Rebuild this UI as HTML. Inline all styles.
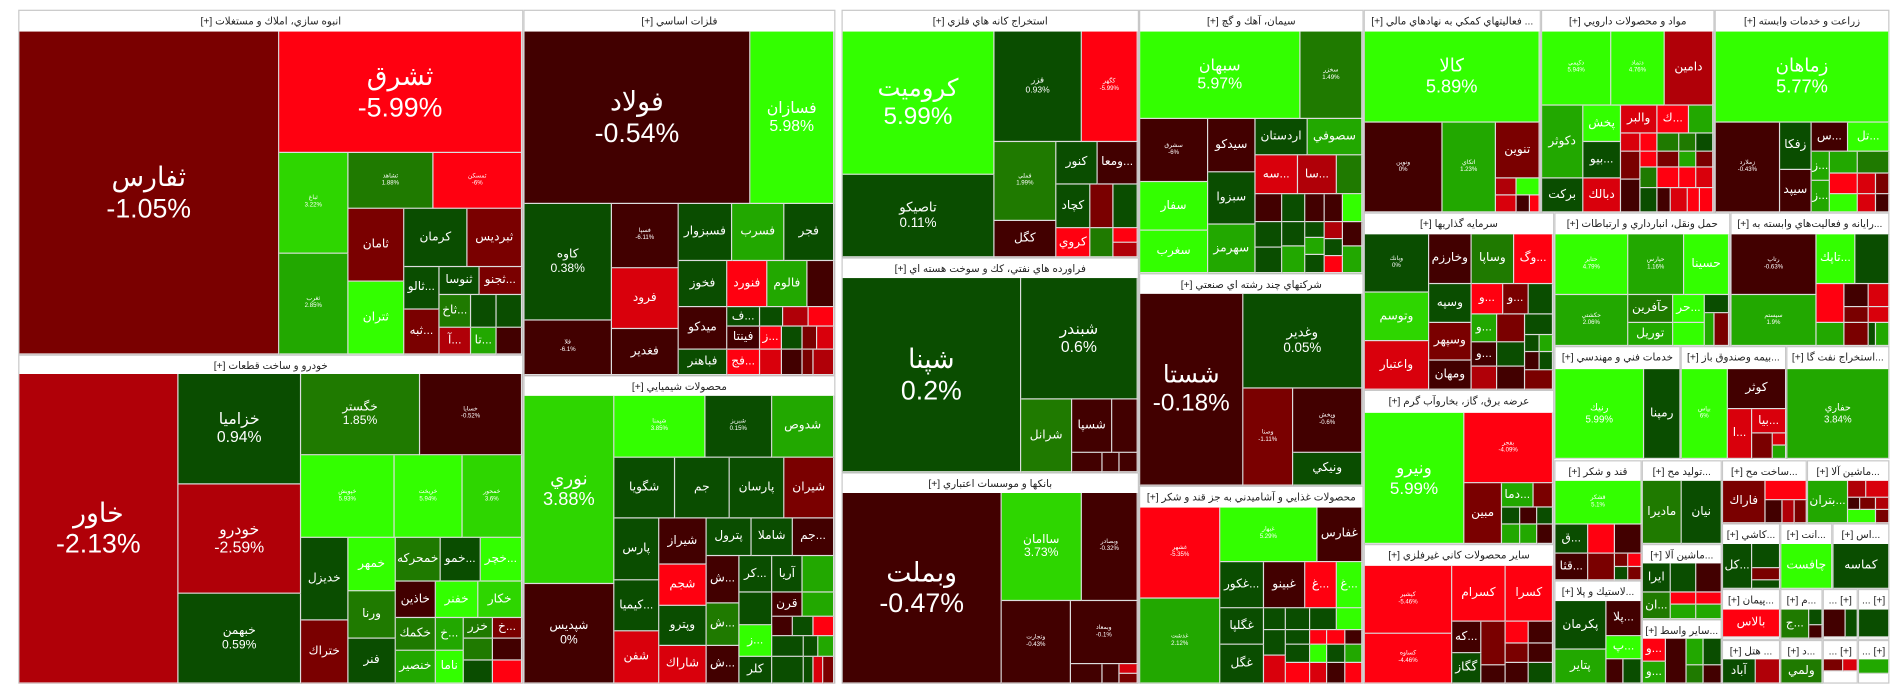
<!DOCTYPE html>
<html><head><meta charset="utf-8">
<style>
html,body{margin:0;padding:0;background:#fff;width:1904px;height:698px;overflow:hidden}
#m{position:absolute;left:0;top:0;width:1568px;height:575px;transform:scale(1.21429);transform-origin:0 0;font-family:"Liberation Sans","DejaVu Sans",sans-serif}
.s{position:absolute;box-sizing:border-box;border:1px solid #c8c8c8;background:#fff;font-size:8.5px;text-align:center;line-height:17px;color:#222;overflow:hidden;white-space:nowrap}
i{position:absolute;box-sizing:border-box;border-right:1px solid #ddd;border-bottom:1px solid #ddd;display:flex;align-items:center;justify-content:center;text-align:center;color:#fff;overflow:hidden;line-height:1.15;white-space:nowrap;font-style:normal;font-size:9px}
.a{background:#420000}.b{background:#7a0000}.c{background:#b00008}.d{background:#d9000c}.e{background:#ff0010}
.f{background:#0a4d00}.g{background:#1f7a00}.h{background:#22a800}.k{background:#2ed600}.j{background:#33ff00}
.L{font-size:22px}.M{font-size:13px}.S{font-size:10px}.X{font-size:5px}
</style></head><body><div id="m">
<div class="s" dir="rtl" style="left:15px;top:8px;width:416px;height:284px">انبوه سازي، املاك و مستغلات [+]</div>
<div class="s" dir="rtl" style="left:15px;top:292px;width:416px;height:271px">خودرو و ساخت قطعات [+]</div>
<div class="s" dir="rtl" style="left:431px;top:8px;width:257px;height:301px">فلزات اساسي [+]</div>
<div class="s" dir="rtl" style="left:431px;top:309px;width:257px;height:254px">محصولات شيميايي [+]</div>
<div class="s" dir="rtl" style="left:693px;top:8px;width:245px;height:204px">استخراج كانه هاي فلزي [+]</div>
<div class="s" dir="rtl" style="left:693px;top:212px;width:245px;height:177px">فراورده هاي نفتي، كك و سوخت هسته اي [+]</div>
<div class="s" dir="rtl" style="left:693px;top:389px;width:245px;height:174px">بانكها و موسسات اعتباري [+]</div>
<div class="s" dir="rtl" style="left:938px;top:8px;width:185px;height:217px">سيمان، آهك و گچ [+]</div>
<div class="s" dir="rtl" style="left:938px;top:225px;width:185px;height:175px">شركتهاي چند رشته اي صنعتي [+]</div>
<div class="s" dir="rtl" style="left:938px;top:400px;width:185px;height:163px">محصولات غذايي و آشاميدني به جز قند و شكر [+]</div>
<div class="s" dir="rtl" style="left:1123px;top:8px;width:146px;height:167px">... فعاليتهاي كمكي به نهادهاي مالي [+]</div>
<div class="s" dir="rtl" style="left:1123px;top:175px;width:157px;height:146px">سرمايه گذاريها [+]</div>
<div class="s" dir="rtl" style="left:1123px;top:321px;width:157px;height:127px">عرضه برق، گاز، بخاروآب گرم [+]</div>
<div class="s" dir="rtl" style="left:1123px;top:448px;width:157px;height:115px">ساير محصولات كاني غيرفلزي [+]</div>
<div class="s" dir="rtl" style="left:1269px;top:8px;width:143px;height:167px">مواد و محصولات دارويي [+]</div>
<div class="s" dir="rtl" style="left:1412px;top:8px;width:144px;height:167px">زراعت و خدمات وابسته [+]</div>
<div class="s" dir="rtl" style="left:1280px;top:175px;width:145px;height:110px">حمل ونقل، انبارداري و ارتباطات [+]</div>
<div class="s" dir="rtl" style="left:1425px;top:175px;width:131px;height:110px">...رايانه و فعاليت‌هاي وابسته به [+]</div>
<div class="s" dir="rtl" style="left:1280px;top:285px;width:104px;height:93px">خدمات فني و مهندسي [+]</div>
<div class="s" dir="rtl" style="left:1384px;top:285px;width:87px;height:93px">...بيمه وصندوق باز [+]</div>
<div class="s" dir="rtl" style="left:1471px;top:285px;width:85px;height:93px">...استخراج نفت گا [+]</div>
<div class="s" dir="rtl" style="left:1280px;top:379px;width:72px;height:99px">قند و شكر [+]</div>
<div class="s" dir="rtl" style="left:1280px;top:478px;width:72px;height:85px">...لاستيك و پلا [+]</div>
<div class="s" dir="rtl" style="left:1352px;top:379px;width:66px;height:69px">...توليد مح [+]</div>
<div class="s" dir="rtl" style="left:1352px;top:448px;width:66px;height:62px">...ماشين آلا [+]</div>
<div class="s" dir="rtl" style="left:1352px;top:510px;width:66px;height:53px">...ساير واسط [+]</div>
<div class="s" dir="rtl" style="left:1418px;top:379px;width:70px;height:52px">...ساخت مح [+]</div>
<div class="s" dir="rtl" style="left:1488px;top:379px;width:68px;height:52px">...ماشين آلا [+]</div>
<div class="s" dir="rtl" style="left:1418px;top:431px;width:48px;height:54px">...كاشي [+]</div>
<div class="s" dir="rtl" style="left:1466px;top:431px;width:43px;height:54px">...انت [+]</div>
<div class="s" dir="rtl" style="left:1509px;top:431px;width:47px;height:54px">...اس [+]</div>
<div class="s" dir="rtl" style="left:1418px;top:485px;width:48px;height:42px">...پيمان [+]</div>
<div class="s" dir="rtl" style="left:1466px;top:485px;width:35px;height:42px">...م [+]</div>
<div class="s" dir="rtl" style="left:1501px;top:485px;width:29px;height:42px">[+] ...</div>
<div class="s" dir="rtl" style="left:1530px;top:485px;width:26px;height:42px">[+] ...</div>
<div class="s" dir="rtl" style="left:1418px;top:527px;width:48px;height:36px">... هتل [+]</div>
<div class="s" dir="rtl" style="left:1466px;top:527px;width:35px;height:36px">...د [+]</div>
<div class="s" dir="rtl" style="left:1501px;top:527px;width:29px;height:36px">[+] ...</div>
<div class="s" dir="rtl" style="left:1530px;top:527px;width:26px;height:36px">[+] ...</div>

<!-- S1 -->
<i class="b L" style="left:16px;top:26px;width:214px;height:266px">ثفارس<br>-1.05%</i>
<i class="e L" style="left:230px;top:26px;width:200px;height:100px">ثشرق<br>-5.99%</i>
<i class="k X" style="left:230px;top:126px;width:57px;height:83px">ثباغ<br>3.22%</i>
<i class="h X" style="left:230px;top:209px;width:57px;height:83px">ثغرب<br>2.85%</i>
<i class="g X" style="left:287px;top:126px;width:70px;height:46px">ثشاهد<br>1.88%</i>
<i class="e X" style="left:357px;top:126px;width:73px;height:46px">ثمسكن<br>-6%</i>
<i class="b S" style="left:287px;top:172px;width:46px;height:60px">ثامان</i>
<i class="f S" style="left:333px;top:172px;width:52px;height:48px">كرمان</i>
<i class="b S" style="left:385px;top:172px;width:45px;height:48px">ثبرديس</i>
<i class="j S" style="left:287px;top:232px;width:46px;height:60px">ثتران</i>
<i class="f S" style="left:333px;top:220px;width:29px;height:35px">ثالو...</i>
<i class="f S" style="left:362px;top:220px;width:33px;height:23px">ثنوسا</i>
<i class="b S" style="left:395px;top:220px;width:35px;height:23px">ثجنو...</i>
<i class="b S" style="left:333px;top:255px;width:29px;height:37px">ثبه...</i>
<i class="g S" style="left:362px;top:243px;width:26px;height:27px">ثاخ...</i>
<i class="f" style="left:388px;top:243px;width:21px;height:27px"></i>
<i class="f" style="left:409px;top:243px;width:21px;height:27px"></i>
<i class="c S" style="left:362px;top:270px;width:26px;height:22px">آ...</i>
<i class="h S" style="left:388px;top:270px;width:21px;height:22px">تا...</i>
<i class="a" style="left:409px;top:270px;width:21px;height:22px"></i>
<!-- S2 -->
<i class="c L" style="left:16px;top:308px;width:131px;height:255px">خاور<br>-2.13%</i>
<i class="f M" style="left:147px;top:308px;width:101px;height:91px">خزاميا<br>0.94%</i>
<i class="c M" style="left:147px;top:399px;width:101px;height:90px">خودرو<br>-2.59%</i>
<i class="f S" style="left:147px;top:489px;width:101px;height:74px">خبهمن<br>0.59%</i>
<i class="g S" style="left:248px;top:308px;width:98px;height:67px">خگستر<br>1.85%</i>
<i class="a X" style="left:346px;top:308px;width:84px;height:67px">خسايا<br>-0.52%</i>
<i class="j X" style="left:248px;top:375px;width:77px;height:68px">خپويش<br>5.93%</i>
<i class="j X" style="left:325px;top:375px;width:56px;height:68px">خريخت<br>5.94%</i>
<i class="k X" style="left:381px;top:375px;width:49px;height:68px">خمحور<br>3.6%</i>
<i class="f S" style="left:248px;top:443px;width:39px;height:68px">خديزل</i>
<i class="b S" style="left:248px;top:511px;width:39px;height:52px">ختراك</i>
<i class="j S" style="left:287px;top:443px;width:39px;height:44px">خمهر</i>
<i class="g S" style="left:287px;top:487px;width:39px;height:39px">ورنا</i>
<i class="f S" style="left:287px;top:526px;width:39px;height:37px">فنر</i>
<i class="g S" style="left:326px;top:443px;width:37px;height:36px">خمحركه</i>
<i class="f S" style="left:363px;top:443px;width:33px;height:36px">خمو...</i>
<i class="j S" style="left:396px;top:443px;width:34px;height:36px">خچر...</i>
<i class="a S" style="left:326px;top:479px;width:33px;height:30px">خاذين</i>
<i class="j S" style="left:359px;top:479px;width:35px;height:30px">خفنر</i>
<i class="k S" style="left:394px;top:479px;width:36px;height:30px">خكار</i>
<i class="g S" style="left:326px;top:509px;width:33px;height:27px">خكمك</i>
<i class="h S" style="left:359px;top:509px;width:23px;height:27px">خ...</i>
<i class="g S" style="left:382px;top:509px;width:24px;height:17px">خزر</i>
<i class="b S" style="left:406px;top:509px;width:24px;height:17px">خ...</i>
<i class="h S" style="left:326px;top:536px;width:33px;height:27px">خنصير</i>
<i class="j S" style="left:359px;top:536px;width:23px;height:27px">ناما</i>
<i class="g" style="left:382px;top:526px;width:24px;height:18px"></i>
<i class="f" style="left:382px;top:544px;width:24px;height:19px"></i>
<i class="a" style="left:406px;top:526px;width:24px;height:18px"></i>
<i class="e" style="left:406px;top:544px;width:24px;height:19px"></i>
<!-- S3 -->
<i class="a L" style="left:432px;top:26px;width:186px;height:142px">فولاد<br>-0.54%</i>
<i class="j M" style="left:618px;top:26px;width:69px;height:142px">فسازان<br>5.98%</i>
<i class="f S" style="left:432px;top:168px;width:72px;height:96px">كاوه<br>0.38%</i>
<i class="a X" style="left:432px;top:264px;width:72px;height:45px">فلا<br>-6.1%</i>
<i class="a X" style="left:504px;top:168px;width:55px;height:53px">فسپا<br>-6.11%</i>
<i class="f S" style="left:559px;top:168px;width:44px;height:47px">فسبزوار</i>
<i class="h S" style="left:603px;top:168px;width:43px;height:47px">فسرب</i>
<i class="f S" style="left:646px;top:168px;width:41px;height:47px">فجر</i>
<i class="d S" style="left:504px;top:221px;width:55px;height:50px">فرود</i>
<i class="a S" style="left:504px;top:271px;width:55px;height:38px">فغدير</i>
<i class="f S" style="left:559px;top:215px;width:40px;height:38px">فخوز</i>
<i class="e S" style="left:599px;top:215px;width:33px;height:38px">فنورد</i>
<i class="h S" style="left:632px;top:215px;width:33px;height:38px">فالوم</i>
<i class="a" style="left:665px;top:215px;width:22px;height:38px"></i>
<i class="a S" style="left:559px;top:253px;width:40px;height:35px">ميدكو</i>
<i class="f S" style="left:559px;top:288px;width:40px;height:21px">فباهنر</i>
<i class="f S" style="left:599px;top:253px;width:27px;height:16px">ف...</i>
<i class="f" style="left:626px;top:253px;width:19px;height:16px"></i>
<i class="c" style="left:645px;top:253px;width:21px;height:16px"></i>
<i class="e" style="left:666px;top:253px;width:21px;height:16px"></i>
<i class="a S" style="left:599px;top:269px;width:27px;height:19px">فينتا</i>
<i class="e S" style="left:626px;top:269px;width:18px;height:19px">ز...</i>
<i class="f" style="left:644px;top:269px;width:17px;height:19px"></i>
<i class="b" style="left:661px;top:269px;width:12px;height:19px"></i>
<i class="d" style="left:673px;top:269px;width:14px;height:19px"></i>
<i class="e S" style="left:599px;top:288px;width:27px;height:21px">فج...</i>
<i class="d" style="left:626px;top:288px;width:18px;height:21px"></i>
<i class="a" style="left:644px;top:288px;width:17px;height:21px"></i>
<i class="b" style="left:661px;top:288px;width:9px;height:21px"></i>
<i class="c" style="left:670px;top:288px;width:17px;height:21px"></i>
<!-- S4 -->
<i class="k M" style="left:432px;top:326px;width:74px;height:155px;font-size:15px">نوري<br>3.88%</i>
<i class="a S" style="left:432px;top:481px;width:74px;height:82px">شپديس<br>0%</i>
<i class="j X" style="left:506px;top:326px;width:75px;height:51px">شپمنا<br>3.85%</i>
<i class="f X" style="left:581px;top:326px;width:55px;height:51px">شبريز<br>0.15%</i>
<i class="h S" style="left:636px;top:326px;width:51px;height:51px">شدوص</i>
<i class="f S" style="left:506px;top:377px;width:50px;height:50px">شگويا</i>
<i class="f S" style="left:556px;top:377px;width:45px;height:50px">جم</i>
<i class="f S" style="left:601px;top:377px;width:45px;height:50px">پارسان</i>
<i class="b S" style="left:646px;top:377px;width:41px;height:50px">شيران</i>
<i class="f S" style="left:506px;top:427px;width:37px;height:51px">پارس</i>
<i class="a S" style="left:543px;top:427px;width:39px;height:38px">شيراز</i>
<i class="f S" style="left:582px;top:427px;width:37px;height:31px">پترول</i>
<i class="f S" style="left:619px;top:427px;width:34px;height:31px">شاملا</i>
<i class="a S" style="left:653px;top:427px;width:34px;height:31px">جم...</i>
<i class="f S" style="left:506px;top:478px;width:37px;height:42px">كيميا...</i>
<i class="d S" style="left:506px;top:520px;width:37px;height:43px">شفن</i>
<i class="e S" style="left:543px;top:465px;width:39px;height:34px">شجم</i>
<i class="f S" style="left:543px;top:499px;width:39px;height:33px">وپترو</i>
<i class="d S" style="left:543px;top:532px;width:39px;height:31px">شاراك</i>
<i class="a S" style="left:582px;top:458px;width:27px;height:39px">ش...</i>
<i class="f S" style="left:609px;top:458px;width:27px;height:30px">كر...</i>
<i class="f S" style="left:636px;top:458px;width:25px;height:30px">آريا</i>
<i class="h" style="left:661px;top:458px;width:26px;height:30px"></i>
<i class="g S" style="left:582px;top:497px;width:27px;height:35px">ش...</i>
<i class="f" style="left:609px;top:488px;width:27px;height:27px"></i>
<i class="a S" style="left:636px;top:488px;width:25px;height:20px">قرن</i>
<i class="h" style="left:661px;top:488px;width:26px;height:20px"></i>
<i class="a S" style="left:582px;top:532px;width:27px;height:31px">ش...</i>
<i class="j S" style="left:609px;top:515px;width:27px;height:26px">ز...</i>
<i class="f S" style="left:609px;top:541px;width:27px;height:22px">كلر</i>
<i class="a" style="left:636px;top:508px;width:17px;height:16px"></i>
<i class="f" style="left:653px;top:508px;width:17px;height:16px"></i>
<i class="e" style="left:670px;top:508px;width:17px;height:16px"></i>
<i class="f" style="left:636px;top:524px;width:26px;height:17px"></i>
<i class="f" style="left:662px;top:524px;width:12px;height:17px"></i>
<i class="h" style="left:674px;top:524px;width:13px;height:17px"></i>
<i class="f" style="left:636px;top:541px;width:26px;height:22px"></i>
<i class="f" style="left:662px;top:541px;width:8px;height:22px"></i>
<i class="d" style="left:670px;top:541px;width:8px;height:22px"></i>
<i class="b" style="left:678px;top:541px;width:9px;height:22px"></i>
<!-- S5 -->
<i class="j L" style="left:694px;top:26px;width:125px;height:118px;font-size:20px">كروميت<br>5.99%</i>
<i class="f S" style="left:694px;top:144px;width:125px;height:68px;font-size:11px">تاصيكو<br>0.11%</i>
<i class="f" style="left:819px;top:26px;width:72px;height:91px;font-size:7px">فزر<br>0.93%</i>
<i class="e X" style="left:891px;top:26px;width:46px;height:91px">كگهر<br>-5.99%</i>
<i class="g X" style="left:819px;top:117px;width:51px;height:65px">فملي<br>1.99%</i>
<i class="f S" style="left:870px;top:117px;width:34px;height:35px">كنور</i>
<i class="a S" style="left:904px;top:117px;width:33px;height:35px">ومعا...</i>
<i class="f S" style="left:870px;top:152px;width:28px;height:36px">كچاد</i>
<i class="b" style="left:898px;top:152px;width:19px;height:36px"></i>
<i class="f" style="left:917px;top:152px;width:20px;height:36px"></i>
<i class="a S" style="left:819px;top:182px;width:51px;height:30px">كگل</i>
<i class="e S" style="left:870px;top:188px;width:28px;height:24px">كروي</i>
<i class="g" style="left:898px;top:188px;width:19px;height:24px"></i>
<i class="e" style="left:917px;top:188px;width:20px;height:12px"></i>
<i class="c" style="left:917px;top:200px;width:20px;height:12px"></i>
<!-- S6 -->
<i class="f L" style="left:694px;top:229px;width:147px;height:160px">شپنا<br>0.2%</i>
<i class="f M" style="left:841px;top:229px;width:96px;height:100px">شبندر<br>0.6%</i>
<i class="g S" style="left:841px;top:329px;width:42px;height:60px">شرانل</i>
<i class="a S" style="left:883px;top:329px;width:33px;height:44px">شسپا</i>
<i class="a" style="left:916px;top:329px;width:21px;height:44px"></i>
<i class="a" style="left:883px;top:373px;width:25px;height:16px"></i>
<i class="a" style="left:908px;top:373px;width:14px;height:16px"></i>
<i class="a" style="left:922px;top:373px;width:15px;height:16px"></i>
<!-- S7 -->
<i class="a L" style="left:694px;top:406px;width:131px;height:157px">وبملت<br>-0.47%</i>
<i class="k S" style="left:825px;top:406px;width:66px;height:89px">ساامان<br>3.73%</i>
<i class="a X" style="left:891px;top:406px;width:46px;height:89px">وبصادر<br>-0.32%</i>
<i class="a X" style="left:825px;top:495px;width:57px;height:68px">وتجارت<br>-0.43%</i>
<i class="a X" style="left:882px;top:495px;width:55px;height:52px">وبمعاد<br>-0.1%</i>
<i class="a" style="left:882px;top:547px;width:26px;height:16px"></i>
<i class="a" style="left:908px;top:547px;width:14px;height:16px"></i>
<i class="d" style="left:922px;top:547px;width:15px;height:8px"></i>
<i class="b" style="left:922px;top:555px;width:15px;height:8px"></i>
<!-- S8 -->
<i class="j M" style="left:939px;top:26px;width:132px;height:72px">سبهان<br>5.97%</i>
<i class="g X" style="left:1071px;top:26px;width:51px;height:72px">سخزر<br>1.49%</i>
<i class="a X" style="left:939px;top:98px;width:56px;height:52px">سشرق<br>-6%</i>
<i class="a S" style="left:995px;top:98px;width:39px;height:44px">سيدكو</i>
<i class="f S" style="left:1034px;top:98px;width:43px;height:30px">اردستان</i>
<i class="h S" style="left:1077px;top:98px;width:45px;height:30px">سصوفي</i>
<i class="j S" style="left:939px;top:150px;width:56px;height:40px">سفار</i>
<i class="j S" style="left:939px;top:190px;width:56px;height:35px">سغرب</i>
<i class="f S" style="left:995px;top:142px;width:39px;height:43px">سبزوا</i>
<i class="h S" style="left:995px;top:185px;width:39px;height:40px">سهرمز</i>
<i class="d S" style="left:1034px;top:128px;width:35px;height:32px">سه...</i>
<i class="c S" style="left:1069px;top:128px;width:32px;height:32px">سا...</i>
<i class="g" style="left:1101px;top:128px;width:21px;height:32px"></i>
<i class="a" style="left:1034px;top:160px;width:22px;height:23px"></i>
<i class="f" style="left:1056px;top:160px;width:19px;height:23px"></i>
<i class="a" style="left:1075px;top:160px;width:16px;height:23px"></i>
<i class="a" style="left:1091px;top:160px;width:15px;height:23px"></i>
<i class="j" style="left:1106px;top:160px;width:16px;height:23px"></i>
<i class="f" style="left:1034px;top:183px;width:22px;height:21px"></i>
<i class="f" style="left:1034px;top:204px;width:22px;height:21px"></i>
<i class="f" style="left:1056px;top:183px;width:19px;height:20px"></i>
<i class="h" style="left:1056px;top:203px;width:19px;height:22px"></i>
<i class="f" style="left:1075px;top:183px;width:16px;height:13px"></i>
<i class="h" style="left:1075px;top:196px;width:16px;height:14px"></i>
<i class="f" style="left:1075px;top:210px;width:16px;height:15px"></i>
<i class="c" style="left:1091px;top:183px;width:15px;height:14px"></i>
<i class="f" style="left:1091px;top:197px;width:15px;height:14px"></i>
<i class="e" style="left:1091px;top:211px;width:15px;height:14px"></i>
<i class="a" style="left:1106px;top:183px;width:16px;height:20px"></i>
<i class="h" style="left:1106px;top:203px;width:16px;height:22px"></i>
<!-- S9 -->
<i class="a L" style="left:939px;top:242px;width:85px;height:158px;font-size:20px">شستا<br>-0.18%</i>
<i class="f S" style="left:1024px;top:242px;width:98px;height:78px;font-size:11px">وغدير<br>0.05%</i>
<i class="b X" style="left:1024px;top:320px;width:41px;height:80px">وصنا<br>-1.11%</i>
<i class="a X" style="left:1065px;top:320px;width:57px;height:53px">وپخش<br>-0.6%</i>
<i class="f S" style="left:1065px;top:373px;width:57px;height:27px">ونيكي</i>
<!-- S10 -->
<i class="e X" style="left:939px;top:418px;width:66px;height:75px">غشهر<br>-5.35%</i>
<i class="h X" style="left:939px;top:493px;width:66px;height:70px">غدشت<br>2.12%</i>
<i class="j X" style="left:1005px;top:418px;width:80px;height:45px">غبهار<br>5.29%</i>
<i class="a S" style="left:1085px;top:418px;width:37px;height:45px">غفارس</i>
<i class="f S" style="left:1005px;top:463px;width:36px;height:38px">غكور...</i>
<i class="a S" style="left:1041px;top:463px;width:34px;height:38px">غبينو</i>
<i class="e S" style="left:1075px;top:463px;width:26px;height:38px">غ...</i>
<i class="j S" style="left:1101px;top:463px;width:21px;height:38px">غ...</i>
<i class="f S" style="left:1005px;top:501px;width:36px;height:30px">غگلپا</i>
<i class="f S" style="left:1005px;top:531px;width:36px;height:32px">غگل</i>
<i class="f" style="left:1041px;top:501px;width:18px;height:18px"></i>
<i class="f" style="left:1059px;top:501px;width:20px;height:18px"></i>
<i class="f" style="left:1079px;top:501px;width:22px;height:18px"></i>
<i class="j" style="left:1101px;top:501px;width:21px;height:18px"></i>
<i class="f" style="left:1041px;top:519px;width:18px;height:21px"></i>
<i class="f" style="left:1059px;top:519px;width:20px;height:12px"></i>
<i class="e" style="left:1079px;top:519px;width:14px;height:12px"></i>
<i class="e" style="left:1093px;top:519px;width:15px;height:12px"></i>
<i class="a" style="left:1108px;top:519px;width:14px;height:12px"></i>
<i class="d" style="left:1041px;top:540px;width:18px;height:23px"></i>
<i class="f" style="left:1059px;top:531px;width:20px;height:15px"></i>
<i class="j" style="left:1079px;top:531px;width:14px;height:15px"></i>
<i class="f" style="left:1093px;top:531px;width:15px;height:15px"></i>
<i class="h" style="left:1108px;top:531px;width:14px;height:15px"></i>
<i class="e" style="left:1059px;top:546px;width:20px;height:17px"></i>
<i class="d" style="left:1079px;top:546px;width:14px;height:17px"></i>
<i class="a" style="left:1093px;top:546px;width:15px;height:17px"></i>
<i class="e" style="left:1108px;top:546px;width:14px;height:17px"></i>
<!-- S11 -->
<i class="j M" style="left:1124px;top:26px;width:144px;height:75px;font-size:15px">كالا<br>5.89%</i>
<i class="a X" style="left:1124px;top:101px;width:64px;height:74px">ونوين<br>0%</i>
<i class="h X" style="left:1188px;top:101px;width:44px;height:74px">اتكاي<br>1.23%</i>
<i class="b S" style="left:1232px;top:101px;width:36px;height:46px">تنوين</i>
<i class="c" style="left:1232px;top:147px;width:17px;height:14px"></i>
<i class="j" style="left:1249px;top:147px;width:19px;height:14px"></i>
<i class="d" style="left:1232px;top:161px;width:17px;height:14px"></i>
<i class="a" style="left:1249px;top:161px;width:11px;height:14px"></i>
<i class="e" style="left:1260px;top:161px;width:8px;height:14px"></i>
<!-- S12 -->
<i class="f X" style="left:1124px;top:193px;width:53px;height:48px">وبانك<br>0%</i>
<i class="k S" style="left:1124px;top:241px;width:53px;height:40px">وتوسم</i>
<i class="d S" style="left:1124px;top:281px;width:53px;height:40px">واعتبار</i>
<i class="a S" style="left:1177px;top:193px;width:35px;height:41px">وخارزم</i>
<i class="g S" style="left:1212px;top:193px;width:35px;height:41px">وساپا</i>
<i class="e S" style="left:1247px;top:193px;width:32px;height:41px">وگ...</i>
<i class="f S" style="left:1177px;top:234px;width:35px;height:32px">وسپه</i>
<i class="e S" style="left:1212px;top:234px;width:26px;height:25px">و...</i>
<i class="b S" style="left:1238px;top:234px;width:21px;height:25px">و...</i>
<i class="f" style="left:1259px;top:234px;width:20px;height:25px"></i>
<i class="b S" style="left:1177px;top:266px;width:35px;height:31px">وسپهر</i>
<i class="a S" style="left:1177px;top:297px;width:35px;height:24px">ومهان</i>
<i class="h S" style="left:1212px;top:259px;width:21px;height:23px">و...</i>
<i class="b" style="left:1233px;top:259px;width:23px;height:23px"></i>
<i class="f" style="left:1256px;top:259px;width:23px;height:17px"></i>
<i class="a S" style="left:1212px;top:282px;width:21px;height:20px">و...</i>
<i class="c" style="left:1212px;top:302px;width:21px;height:19px"></i>
<i class="f" style="left:1233px;top:282px;width:23px;height:20px"></i>
<i class="a" style="left:1233px;top:302px;width:23px;height:19px"></i>
<i class="f" style="left:1256px;top:276px;width:12px;height:14px"></i>
<i class="h" style="left:1268px;top:276px;width:11px;height:14px"></i>
<i class="a" style="left:1256px;top:290px;width:12px;height:15px"></i>
<i class="f" style="left:1268px;top:290px;width:11px;height:15px"></i>
<i class="b" style="left:1256px;top:305px;width:23px;height:16px"></i>
<!-- S13 -->
<i class="j M" style="left:1124px;top:340px;width:82px;height:108px;font-size:14px">ونيرو<br>5.99%</i>
<i class="e X" style="left:1206px;top:340px;width:73px;height:58px">بفجر<br>-4.09%</i>
<i class="b S" style="left:1206px;top:398px;width:31px;height:50px">مبين</i>
<i class="h S" style="left:1237px;top:398px;width:26px;height:20px">دما...</i>
<i class="b" style="left:1263px;top:398px;width:16px;height:20px"></i>
<i class="f" style="left:1237px;top:418px;width:15px;height:14px"></i>
<i class="a" style="left:1252px;top:418px;width:14px;height:14px"></i>
<i class="f" style="left:1266px;top:418px;width:13px;height:14px"></i>
<i class="h" style="left:1237px;top:432px;width:15px;height:16px"></i>
<i class="h" style="left:1252px;top:432px;width:14px;height:16px"></i>
<i class="a" style="left:1266px;top:432px;width:13px;height:16px"></i>
<!-- S14 -->
<i class="e X" style="left:1124px;top:466px;width:72px;height:56px">كپشير<br>-5.46%</i>
<i class="e X" style="left:1124px;top:522px;width:72px;height:41px">كساوه<br>-4.46%</i>
<i class="e S" style="left:1196px;top:466px;width:44px;height:46px">كسرام</i>
<i class="e S" style="left:1240px;top:466px;width:39px;height:46px">كسرا</i>
<i class="a S" style="left:1196px;top:512px;width:24px;height:26px">كه...</i>
<i class="f S" style="left:1196px;top:538px;width:24px;height:25px">گگاز</i>
<i class="b" style="left:1220px;top:512px;width:20px;height:36px"></i>
<i class="a" style="left:1220px;top:548px;width:20px;height:15px"></i>
<i class="e" style="left:1240px;top:512px;width:19px;height:18px"></i>
<i class="a" style="left:1259px;top:512px;width:20px;height:18px"></i>
<i class="b" style="left:1240px;top:530px;width:19px;height:16px"></i>
<i class="a" style="left:1259px;top:530px;width:20px;height:16px"></i>
<i class="a" style="left:1240px;top:546px;width:19px;height:17px"></i>
<i class="f" style="left:1259px;top:546px;width:20px;height:17px"></i>
<!-- S15 -->
<i class="j X" style="left:1270px;top:26px;width:57px;height:61px">دكيمي<br>5.94%</i>
<i class="j X" style="left:1327px;top:26px;width:44px;height:61px">دتماد<br>4.76%</i>
<i class="c S" style="left:1371px;top:26px;width:40px;height:61px">دامين</i>
<i class="h S" style="left:1270px;top:87px;width:34px;height:60px">دكوثر</i>
<i class="f S" style="left:1270px;top:147px;width:34px;height:28px">بركت</i>
<i class="j S" style="left:1304px;top:87px;width:31px;height:30px">پخش</i>
<i class="f S" style="left:1304px;top:117px;width:31px;height:30px">بيو...</i>
<i class="d S" style="left:1304px;top:147px;width:31px;height:28px">دبالك</i>
<i class="d S" style="left:1335px;top:87px;width:30px;height:23px">والبر</i>
<i class="e S" style="left:1365px;top:87px;width:26px;height:23px">ك...</i>
<i class="h" style="left:1391px;top:87px;width:20px;height:23px"></i>
<i class="d" style="left:1335px;top:110px;width:16px;height:15px"></i>
<i class="e" style="left:1351px;top:110px;width:14px;height:15px"></i>
<i class="g" style="left:1365px;top:110px;width:18px;height:15px"></i>
<i class="g" style="left:1383px;top:110px;width:14px;height:15px"></i>
<i class="f" style="left:1397px;top:110px;width:14px;height:15px"></i>
<i class="b" style="left:1335px;top:125px;width:16px;height:23px"></i>
<i class="e" style="left:1351px;top:125px;width:14px;height:13px"></i>
<i class="b" style="left:1365px;top:125px;width:18px;height:13px"></i>
<i class="h" style="left:1383px;top:125px;width:14px;height:13px"></i>
<i class="b" style="left:1397px;top:125px;width:14px;height:13px"></i>
<i class="a" style="left:1335px;top:148px;width:16px;height:27px"></i>
<i class="g" style="left:1351px;top:138px;width:14px;height:17px"></i>
<i class="e" style="left:1365px;top:138px;width:18px;height:17px"></i>
<i class="e" style="left:1383px;top:138px;width:14px;height:17px"></i>
<i class="d" style="left:1397px;top:138px;width:14px;height:17px"></i>
<i class="f" style="left:1351px;top:155px;width:14px;height:20px"></i>
<i class="a" style="left:1365px;top:155px;width:11px;height:20px"></i>
<i class="d" style="left:1376px;top:155px;width:14px;height:20px"></i>
<i class="e" style="left:1390px;top:155px;width:10px;height:20px"></i>
<i class="e" style="left:1400px;top:155px;width:11px;height:20px"></i>
<!-- S16 -->
<i class="j M" style="left:1413px;top:26px;width:143px;height:75px;font-size:15px">زماهان<br>5.77%</i>
<i class="a X" style="left:1413px;top:101px;width:53px;height:74px">زملارد<br>-0.43%</i>
<i class="f S" style="left:1466px;top:101px;width:26px;height:39px">زفكا</i>
<i class="a S" style="left:1466px;top:140px;width:26px;height:35px">سيپد</i>
<i class="a S" style="left:1492px;top:101px;width:30px;height:24px">س...</i>
<i class="j S" style="left:1522px;top:101px;width:34px;height:24px">تل...</i>
<i class="h S" style="left:1492px;top:125px;width:15px;height:24px">ز...</i>
<i class="h" style="left:1507px;top:125px;width:23px;height:18px"></i>
<i class="g" style="left:1530px;top:125px;width:26px;height:18px"></i>
<i class="e" style="left:1507px;top:143px;width:23px;height:17px"></i>
<i class="d" style="left:1530px;top:143px;width:15px;height:17px"></i>
<i class="b" style="left:1545px;top:143px;width:11px;height:17px"></i>
<i class="h S" style="left:1492px;top:149px;width:15px;height:26px">ز...</i>
<i class="j" style="left:1507px;top:160px;width:23px;height:15px"></i>
<i class="d" style="left:1530px;top:160px;width:15px;height:15px"></i>
<i class="a" style="left:1545px;top:160px;width:11px;height:15px"></i>
<!-- S17 -->
<i class="j X" style="left:1281px;top:193px;width:60px;height:50px">حتاير<br>4.79%</i>
<i class="h X" style="left:1341px;top:193px;width:46px;height:50px">حپارس<br>1.16%</i>
<i class="j S" style="left:1387px;top:193px;width:37px;height:50px">حسينا</i>
<i class="h X" style="left:1281px;top:243px;width:60px;height:42px">حكشتي<br>2.06%</i>
<i class="g S" style="left:1341px;top:243px;width:37px;height:23px">حآفرين</i>
<i class="j S" style="left:1378px;top:243px;width:26px;height:23px">حر...</i>
<i class="f" style="left:1404px;top:243px;width:20px;height:15px"></i>
<i class="h S" style="left:1341px;top:266px;width:37px;height:19px">توريل</i>
<i class="j" style="left:1378px;top:266px;width:26px;height:19px"></i>
<i class="h" style="left:1404px;top:258px;width:8px;height:27px"></i>
<i class="b" style="left:1412px;top:258px;width:12px;height:27px"></i>
<!-- S18 -->
<i class="a X" style="left:1426px;top:193px;width:70px;height:50px">رتاپ<br>-0.63%</i>
<i class="j S" style="left:1496px;top:193px;width:32px;height:41px">تاپك...</i>
<i class="f" style="left:1528px;top:193px;width:28px;height:41px"></i>
<i class="h X" style="left:1426px;top:243px;width:70px;height:42px">سيستم<br>1.9%</i>
<i class="e" style="left:1496px;top:234px;width:23px;height:32px"></i>
<i class="a" style="left:1519px;top:234px;width:20px;height:19px"></i>
<i class="d" style="left:1539px;top:234px;width:17px;height:19px"></i>
<i class="b" style="left:1519px;top:253px;width:20px;height:13px"></i>
<i class="d" style="left:1539px;top:253px;width:17px;height:13px"></i>
<i class="h" style="left:1496px;top:266px;width:23px;height:19px"></i>
<i class="b" style="left:1519px;top:266px;width:20px;height:19px"></i>
<i class="f" style="left:1539px;top:266px;width:6px;height:19px"></i>
<i class="h" style="left:1545px;top:266px;width:11px;height:19px"></i>
<!-- S19-21 -->
<i class="j" style="left:1281px;top:304px;width:73px;height:74px;font-size:8px">رنيك<br>5.99%</i>
<i class="f S" style="left:1354px;top:304px;width:30px;height:74px">رمپنا</i>
<i class="j X" style="left:1385px;top:304px;width:38px;height:74px">بپاس<br>6%</i>
<i class="a S" style="left:1423px;top:304px;width:48px;height:33px">كوثر</i>
<i class="d S" style="left:1423px;top:337px;width:20px;height:41px">ا...</i>
<i class="d S" style="left:1443px;top:337px;width:28px;height:20px">بيا...</i>
<i class="b" style="left:1443px;top:357px;width:17px;height:21px"></i>
<i class="d" style="left:1460px;top:357px;width:11px;height:10px"></i>
<i class="h" style="left:1460px;top:367px;width:11px;height:11px"></i>
<i class="h" style="left:1472px;top:304px;width:84px;height:74px;font-size:8px">حفاري<br>3.84%</i>
<!-- S22-23 -->
<i class="j X" style="left:1281px;top:396px;width:71px;height:36px">قشكر<br>5.1%</i>
<i class="f S" style="left:1281px;top:432px;width:27px;height:24px">ق...</i>
<i class="e" style="left:1308px;top:432px;width:22px;height:24px"></i>
<i class="a" style="left:1330px;top:432px;width:22px;height:24px"></i>
<i class="a S" style="left:1281px;top:456px;width:27px;height:22px">قثا...</i>
<i class="b" style="left:1308px;top:456px;width:22px;height:22px"></i>
<i class="b" style="left:1330px;top:456px;width:11px;height:11px"></i>
<i class="e" style="left:1341px;top:456px;width:11px;height:11px"></i>
<i class="f" style="left:1330px;top:467px;width:11px;height:11px"></i>
<i class="b" style="left:1341px;top:467px;width:11px;height:11px"></i>
<i class="f S" style="left:1281px;top:495px;width:42px;height:40px">پكرمان</i>
<i class="a S" style="left:1323px;top:495px;width:29px;height:29px">پلا...</i>
<i class="j S" style="left:1323px;top:524px;width:29px;height:19px">پ...</i>
<i class="h S" style="left:1281px;top:535px;width:42px;height:28px">پتاير</i>
<i class="a" style="left:1323px;top:543px;width:14px;height:20px"></i>
<i class="f" style="left:1337px;top:543px;width:15px;height:20px"></i>
<!-- S24-26 -->
<i class="g S" style="left:1353px;top:396px;width:32px;height:52px">ماديرا</i>
<i class="f S" style="left:1385px;top:396px;width:33px;height:52px">نيان</i>
<i class="f S" style="left:1353px;top:464px;width:23px;height:24px">ايرا</i>
<i class="f" style="left:1376px;top:464px;width:21px;height:24px"></i>
<i class="a" style="left:1397px;top:464px;width:21px;height:24px"></i>
<i class="g S" style="left:1353px;top:488px;width:23px;height:22px">ان...</i>
<i class="e" style="left:1376px;top:488px;width:21px;height:10px"></i>
<i class="e" style="left:1397px;top:488px;width:21px;height:10px"></i>
<i class="h" style="left:1376px;top:498px;width:21px;height:12px"></i>
<i class="h" style="left:1397px;top:498px;width:21px;height:12px"></i>
<i class="e S" style="left:1353px;top:526px;width:19px;height:19px">و...</i>
<i class="h S" style="left:1353px;top:545px;width:19px;height:18px">و...</i>
<i class="a" style="left:1372px;top:526px;width:17px;height:37px"></i>
<i class="h" style="left:1389px;top:526px;width:14px;height:22px"></i>
<i class="f" style="left:1403px;top:526px;width:15px;height:22px"></i>
<i class="g" style="left:1389px;top:548px;width:14px;height:15px"></i>
<i class="a" style="left:1403px;top:548px;width:15px;height:15px"></i>
<!-- S27-28 -->
<i class="b S" style="left:1419px;top:396px;width:35px;height:35px">فاراك</i>
<i class="e" style="left:1454px;top:396px;width:34px;height:16px"></i>
<i class="a" style="left:1454px;top:412px;width:14px;height:19px"></i>
<i class="c" style="left:1468px;top:412px;width:10px;height:19px"></i>
<i class="b" style="left:1478px;top:412px;width:10px;height:19px"></i>
<i class="h S" style="left:1489px;top:396px;width:33px;height:35px">بتران...</i>
<i class="c" style="left:1522px;top:396px;width:15px;height:14px"></i>
<i class="d" style="left:1537px;top:396px;width:19px;height:14px"></i>
<i class="a" style="left:1522px;top:410px;width:10px;height:10px"></i>
<i class="b" style="left:1532px;top:410px;width:13px;height:10px"></i>
<i class="c" style="left:1545px;top:410px;width:11px;height:10px"></i>
<i class="j" style="left:1522px;top:420px;width:23px;height:11px"></i>
<i class="b" style="left:1545px;top:420px;width:11px;height:11px"></i>
<!-- S29-40 -->
<i class="f S" style="left:1419px;top:448px;width:24px;height:37px">كل...</i>
<i class="f" style="left:1443px;top:448px;width:23px;height:20px"></i>
<i class="b" style="left:1443px;top:468px;width:23px;height:10px"></i>
<i class="f" style="left:1443px;top:478px;width:23px;height:7px"></i>
<i class="j S" style="left:1467px;top:448px;width:42px;height:37px">چافست</i>
<i class="f S" style="left:1510px;top:448px;width:46px;height:37px">كماسه</i>
<i class="e S" style="left:1419px;top:502px;width:47px;height:23px">بالاس</i>
<i class="g S" style="left:1467px;top:502px;width:23px;height:24px">ج...</i>
<i class="f" style="left:1490px;top:502px;width:11px;height:13px"></i>
<i class="a" style="left:1490px;top:515px;width:11px;height:11px"></i>
<i class="a" style="left:1502px;top:502px;width:18px;height:23px"></i>
<i class="f" style="left:1520px;top:502px;width:10px;height:23px"></i>
<i class="f" style="left:1531px;top:502px;width:25px;height:23px"></i>
<i class="f S" style="left:1419px;top:543px;width:27px;height:20px">آباد</i>
<i class="c" style="left:1446px;top:543px;width:20px;height:20px"></i>
<i class="g S" style="left:1467px;top:543px;width:34px;height:20px">ولمي</i>
<i class="b" style="left:1502px;top:543px;width:16px;height:10px"></i>
<i class="d" style="left:1518px;top:543px;width:12px;height:10px"></i>
<i class="h" style="left:1531px;top:543px;width:25px;height:12px"></i>
</div></body></html>
